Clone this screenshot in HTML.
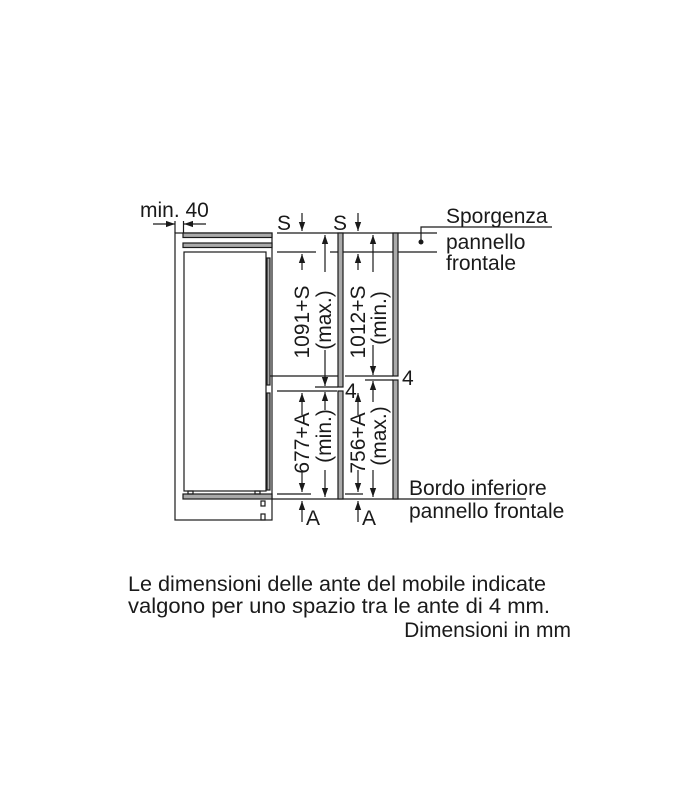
<!DOCTYPE html>
<html><head><meta charset="utf-8"><style>
html,body{margin:0;padding:0;background:#fff;}
svg{display:block;}
text{font-family:"Liberation Sans",Arial,sans-serif;fill:#1a1a1a;}
</style></head><body>
<svg width="694" height="800" viewBox="0 0 694 800" xmlns="http://www.w3.org/2000/svg">
<defs>
<marker id="ar" viewBox="0 0 10 10" refX="10" refY="5" markerWidth="9" markerHeight="9" markerUnits="userSpaceOnUse" orient="auto"><path d="M0,1.5 L10,5 L0,8.5 Z" fill="#1a1a1a"/></marker>
</defs>
<g stroke="#1a1a1a" stroke-width="1.2" fill="none">
<rect x="175" y="233" width="97" height="287"/>
<rect x="183" y="233" width="89" height="4.5" fill="#aaa"/>
<rect x="183" y="243" width="89" height="4.5" fill="#aaa"/>
<rect x="184" y="252" width="82" height="239"/>
<rect x="267" y="258" width="3" height="127" fill="#aaa"/>
<rect x="267" y="393" width="3" height="97" fill="#aaa"/>
<rect x="183" y="494" width="89" height="5" fill="#aaa"/>
<rect x="188" y="491" width="5" height="3"/>
<rect x="255" y="491" width="5" height="3"/>
<rect x="261" y="501" width="4" height="5"/>
<rect x="261" y="514" width="4" height="6"/>
<line x1="153" y1="224" x2="175" y2="224" marker-end="url(#ar)"/>
<line x1="206" y1="224" x2="184" y2="224" marker-end="url(#ar)"/>
<line x1="175" y1="221" x2="175" y2="233"/>
<line x1="183.5" y1="221" x2="183.5" y2="233"/>
<line x1="277" y1="233" x2="420" y2="233"/>
<line x1="277" y1="252" x2="316" y2="252"/>
<line x1="330" y1="252" x2="437" y2="252"/>
<line x1="420" y1="233" x2="437" y2="233"/>
<line x1="270" y1="376" x2="338" y2="376"/>
<line x1="345" y1="376" x2="393" y2="376"/>
<line x1="365" y1="380" x2="393" y2="380"/>
<line x1="315" y1="387" x2="338" y2="387"/>
<line x1="277" y1="391" x2="337" y2="391"/>
<line x1="277" y1="494" x2="311" y2="494"/>
<line x1="345" y1="494" x2="363" y2="494"/>
<line x1="272" y1="499" x2="398" y2="499"/>
<rect x="338" y="233" width="5" height="154" fill="#aaa"/>
<rect x="338" y="391" width="5" height="108" fill="#aaa"/>
<rect x="393" y="233" width="5" height="143" fill="#aaa"/>
<rect x="393" y="380" width="5" height="119" fill="#aaa"/>
<line x1="302" y1="213" x2="302" y2="231" marker-end="url(#ar)"/>
<line x1="302" y1="270" x2="302" y2="254" marker-end="url(#ar)"/>
<line x1="358" y1="213" x2="358" y2="231" marker-end="url(#ar)"/>
<line x1="358" y1="270" x2="358" y2="254" marker-end="url(#ar)"/>
<line x1="325" y1="272" x2="325" y2="235" marker-end="url(#ar)"/>
<line x1="325" y1="350" x2="325" y2="386" marker-end="url(#ar)"/>
<line x1="325" y1="410" x2="325" y2="392" marker-end="url(#ar)"/>
<line x1="325" y1="470" x2="325" y2="497" marker-end="url(#ar)"/>
<line x1="373" y1="272" x2="373" y2="235" marker-end="url(#ar)"/>
<line x1="373" y1="345" x2="373" y2="375" marker-end="url(#ar)"/>
<line x1="373" y1="402" x2="373" y2="381" marker-end="url(#ar)"/>
<line x1="373" y1="470" x2="373" y2="497" marker-end="url(#ar)"/>
<line x1="302" y1="470" x2="302" y2="492" marker-end="url(#ar)"/>
<line x1="302" y1="415" x2="302" y2="393" marker-end="url(#ar)"/>
<line x1="358" y1="470" x2="358" y2="492" marker-end="url(#ar)"/>
<line x1="358" y1="415" x2="358" y2="393" marker-end="url(#ar)"/>
<line x1="302" y1="522" x2="302" y2="501" marker-end="url(#ar)"/>
<line x1="358" y1="522" x2="358" y2="501" marker-end="url(#ar)"/>
<polyline points="421,242 421,227 552,227"/>
<line x1="398" y1="499" x2="526" y2="499"/>
</g>
<circle cx="421" cy="242" r="2.5" fill="#1a1a1a"/>
<g font-size="21">
<text x="140" y="217">min. 40</text>
<text x="277" y="230">S</text>
<text x="333" y="230">S</text>
<text x="306" y="525">A</text>
<text x="362" y="525">A</text>
<text x="345" y="398">4</text>
<text x="402" y="385">4</text>
<text x="446" y="223">Sporgenza</text>
<text x="446" y="249">pannello</text>
<text x="446" y="270">frontale</text>
<text x="409" y="495">Bordo inferiore</text>
<text x="409" y="518">pannello frontale</text>
<text transform="translate(309,322) rotate(-90)" text-anchor="middle">1091+S</text>
<text transform="translate(331,320) rotate(-90)" text-anchor="middle">(max.)</text>
<text transform="translate(365,322) rotate(-90)" text-anchor="middle">1012+S</text>
<text transform="translate(386,318) rotate(-90)" text-anchor="middle">(min.)</text>
<text transform="translate(309,443) rotate(-90)" text-anchor="middle">677+A</text>
<text transform="translate(331,436) rotate(-90)" text-anchor="middle">(min.)</text>
<text transform="translate(365,443) rotate(-90)" text-anchor="middle">756+A</text>
<text transform="translate(386,436) rotate(-90)" text-anchor="middle">(max.)</text>
<text x="128" y="591" textLength="418" lengthAdjust="spacingAndGlyphs">Le dimensioni delle ante del mobile indicate</text>
<text x="128" y="613" textLength="422" lengthAdjust="spacingAndGlyphs">valgono per uno spazio tra le ante di 4 mm.</text>
<text x="571" y="637" text-anchor="end">Dimensioni in mm</text>
</g>
</svg>
</body></html>
